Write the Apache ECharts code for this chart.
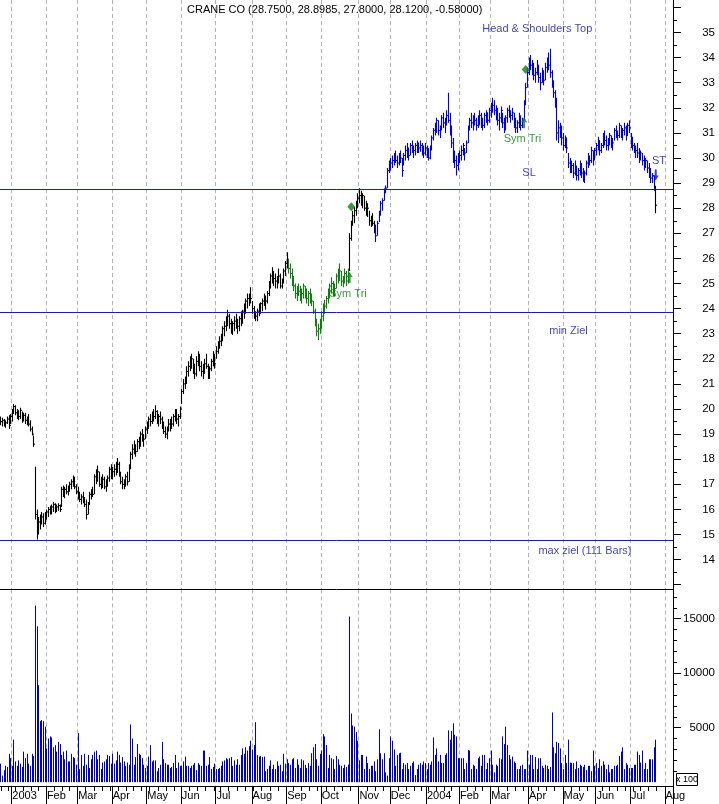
<!DOCTYPE html>
<html><head><meta charset="utf-8">
<script src="https://cdn.jsdelivr.net/npm/echarts@6/dist/echarts.min.js"></script>
<style>html,body{margin:0;padding:0;background:#fff}#c{width:719px;height:804px}</style>
</head><body><div id="c"></div>
<script>
// ---------- axis / calendar data ----------
const holidays = ['2002-12-25','2003-01-01','2003-01-20','2003-02-17','2003-04-18','2003-05-26','2003-07-04','2003-09-01','2003-11-27','2003-12-25',
  '2004-01-01','2004-01-19','2004-02-16','2004-04-09','2004-05-31','2004-06-11','2004-07-05'];
const monthLabels = ['2003','Feb','Mar','Apr','May','Jun','Jul','Aug','Sep','Oct','Nov','Dec','2004','Feb','Mar','Apr','May','Jun','Jul','Aug'];
const priceTickLabels = [14,15,16,17,18,19,20,21,22,23,24,25,26,27,28,29,30,31,32,33,34,35];
const priceTickMarks = [13,14,15,16,17,18,19,20,21,22,23,24,25,26,27,28,29,30,31,32,33,34,35,36];
const volumeTickLabels = [5000,10000,15000];
const titleText = 'CRANE CO (28.7500, 28.8985, 27.8000, 28.1200, -0.58000)';

// ---------- price bars: [high, low, close] per trading day ----------
const priceBars = [
// Dec 2002
[19.7,19.35,19.5],[19.65,19.3,19.55],[19.6,19.3,19.4],[19.55,19.25,19.45],[19.7,19.4,19.6],[19.75,19.2,19.35],[19.8,19.4,19.7],
// Jan 2003
[20.0,19.5,19.9],[20.2,19.8,20.1],[20.15,19.75,19.85],[20.0,19.6,19.9],[19.95,19.55,19.7],[20.05,19.6,19.95],[19.9,19.45,19.6],[19.85,19.5,19.75],[19.85,19.4,19.55],[19.7,19.35,19.6],[19.8,19.3,19.4],[19.55,19.1,19.2],[19.3,18.95,19.0],[18.95,18.5,18.6],[17.7,15.6,15.8],[16.0,14.8,15.2],[15.7,15.0,15.5],[15.8,15.2,15.6],[15.9,15.4,15.7],[15.85,15.3,15.45],[15.9,15.4,15.8],
// Feb
[16.0,15.6,15.9],[16.1,15.7,16.0],[16.15,15.8,15.85],[16.2,15.8,16.1],[16.3,15.9,16.2],[16.25,15.85,15.95],[16.2,15.9,16.1],[16.25,15.95,16.15],[16.2,15.9,16.0],[16.9,16.1,16.8],[16.95,16.5,16.6],[16.9,16.45,16.8],[17.0,16.6,16.7],[16.95,16.55,16.85],[17.1,16.7,17.0],[17.2,16.8,17.1],[17.35,16.9,17.2],[17.3,16.8,16.9],[17.0,16.6,16.7],
// Mar
[16.9,16.4,16.5],[16.7,16.3,16.4],[16.6,16.2,16.5],[16.7,16.25,16.3],[16.5,16.1,16.2],[16.4,15.6,15.8],[16.3,15.8,16.2],[16.7,16.2,16.6],[16.8,16.4,16.7],[16.9,16.5,16.6],[17.4,16.6,17.3],[17.6,17.0,17.2],[17.75,17.1,17.5],[17.5,16.9,17.0],[17.3,16.8,17.1],[17.4,16.85,17.2],[17.3,16.8,16.9],[17.2,16.7,17.1],[17.35,16.9,17.25],[17.7,17.1,17.6],[17.8,17.2,17.5],
// Apr
[17.7,17.2,17.5],[17.8,17.3,17.6],[17.9,17.35,17.5],[18.05,17.45,17.8],[17.9,17.3,17.4],[17.5,17.0,17.1],[17.3,16.8,17.0],[17.2,16.8,17.1],[17.4,16.9,17.3],[17.5,16.95,17.1],[17.8,17.1,17.7],[18.3,17.6,18.2],[18.6,18.0,18.4],[18.75,18.2,18.5],[18.6,18.1,18.3],[18.8,18.3,18.7],[18.9,18.4,18.6],[19.1,18.5,19.0],[19.2,18.7,18.9],[19.0,18.5,18.8],[19.3,18.8,19.2],
// May
[19.5,19.0,19.4],[19.7,19.2,19.6],[19.8,19.3,19.5],[19.9,19.4,19.8],[20.0,19.5,19.7],[20.15,19.6,19.9],[19.95,19.4,19.5],[19.8,19.3,19.7],[19.9,19.4,19.6],[19.7,19.2,19.3],[19.5,19.0,19.1],[19.3,18.85,19.0],[19.3,18.8,19.2],[19.6,19.1,19.4],[19.6,19.1,19.5],[19.7,19.2,19.4],[19.8,19.3,19.7],[20.0,19.5,19.9],[20.0,19.4,19.6],[19.8,19.3,19.7],[20.1,19.6,20.0],
// Jun
[20.8,20.2,20.7],[21.2,20.6,21.0],[21.3,20.8,21.2],[21.7,21.0,21.5],[21.9,21.3,21.7],[22.1,21.5,21.8],[22.2,21.6,22.0],[22.0,21.4,21.6],[21.8,21.2,21.4],[22.1,21.3,21.9],[22.3,21.7,22.0],[22.2,21.5,21.7],[21.9,21.3,21.5],[21.8,21.2,21.6],[22.0,21.4,21.8],[22.2,21.6,21.7],[21.8,21.2,21.3],[21.7,21.2,21.6],[22.0,21.5,21.9],[22.3,21.7,22.1],[22.2,21.6,21.8],
// Jul
[22.5,22.0,22.3],[22.7,22.2,22.6],[22.9,22.4,22.7],[23.0,22.5,22.9],[23.3,22.7,23.2],[23.5,22.9,23.3],[23.7,23.1,23.6],[23.95,23.3,23.7],[23.8,23.2,23.4],[23.6,23.0,23.2],[23.5,22.95,23.4],[23.7,23.1,23.5],[23.8,23.2,23.4],[23.6,23.0,23.3],[23.7,23.1,23.6],[23.9,23.3,23.7],[23.95,23.4,23.9],[24.2,23.6,24.0],[24.4,23.8,24.3],[24.6,24.0,24.4],[24.6,24.1,24.5],[24.85,24.2,24.4],
// Aug
[24.3,23.8,24.0],[24.1,23.6,23.8],[23.9,23.5,23.7],[24.0,23.5,23.9],[24.2,23.7,24.0],[24.25,23.8,24.2],[24.4,23.9,24.3],[24.6,24.1,24.5],[24.5,23.95,24.3],[24.7,24.2,24.6],[25.1,24.5,24.9],[25.4,24.8,25.3],[25.65,25.0,25.4],[25.5,24.9,25.2],[25.4,24.8,25.1],[25.3,24.8,25.2],[25.6,25.0,25.3],[25.4,24.8,24.9],[25.2,24.8,25.1],[25.6,25.0,25.5],[25.9,25.3,25.8],
// Sep
[26.25,25.6,25.9],[26.0,25.4,25.6],[25.8,25.2,25.4],[25.6,24.9,25.1],[25.3,24.7,24.9],[25.0,24.4,24.6],[24.9,24.3,24.8],[25.0,24.5,24.7],[24.9,24.3,24.5],[24.8,24.2,24.6],[25.0,24.4,24.9],[24.9,24.4,24.6],[24.8,24.2,24.4],[24.7,24.1,24.6],[24.8,24.2,24.5],[24.6,24.1,24.3],[24.3,23.8,23.9],[24.0,23.3,23.5],[23.6,22.9,23.1],[23.4,22.75,23.2],[23.6,23.0,23.4],
// Oct
[23.9,23.2,23.7],[24.2,23.5,24.0],[24.35,23.8,24.1],[24.5,24.0,24.4],[24.8,24.2,24.6],[25.0,24.4,24.9],[25.25,24.6,25.0],[25.1,24.5,24.7],[25.0,24.5,24.8],[25.4,24.8,25.3],[25.6,25.0,25.2],[25.8,25.1,25.5],[25.5,24.9,25.1],[25.3,24.85,25.2],[25.6,25.0,25.4],[25.5,24.9,25.1],[25.6,25.0,25.4],[27.0,25.5,26.8],[27.5,26.7,27.4],[27.9,27.3,27.7],[28.05,27.4,27.9],[28.3,27.7,28.1],[28.6,28.0,28.4],
// Nov
[28.8,28.2,28.5],[28.7,28.1,28.3],[28.6,28.0,28.5],[28.5,27.9,28.0],[28.3,27.7,27.9],[28.2,27.65,28.0],[27.9,27.3,27.5],[27.7,27.25,27.6],[27.8,27.3,27.4],[27.5,27.0,27.2],[27.35,26.65,26.9],[27.5,26.9,27.4],[27.9,27.45,27.8],[28.3,27.7,28.2],[28.4,27.9,28.3],[28.8,28.3,28.7],[28.9,28.6,28.8],[29.6,28.8,29.5],[29.9,29.4,29.7],
// Dec
[30.0,29.5,29.8],[30.1,29.6,29.9],[30.2,29.7,30.0],[30.3,29.8,29.9],[30.1,29.6,29.8],[30.2,29.7,30.1],[30.3,29.8,30.0],[30.0,29.25,29.5],[30.2,29.7,30.1],[30.5,29.9,30.3],[30.6,30.0,30.4],[30.4,29.9,30.1],[30.6,30.1,30.5],[30.7,30.2,30.4],[30.5,30.0,30.3],[30.6,30.1,30.5],[30.7,30.2,30.6],[30.6,30.2,30.4],[30.7,30.25,30.5],[30.6,30.1,30.3],[30.5,30.0,30.2],[30.6,30.1,30.4],
// Jan 2004
[30.5,30.0,30.2],[30.4,29.9,30.0],[30.5,29.95,30.4],[30.9,30.3,30.8],[31.2,30.7,31.1],[31.4,30.9,31.2],[31.6,31.0,31.5],[31.5,30.9,31.1],[31.3,30.8,31.2],[31.7,31.1,31.6],[31.8,31.2,31.4],[31.6,31.0,31.5],[31.9,31.3,31.7],[32.6,31.4,31.5],[31.8,30.9,31.1],[31.3,30.4,30.6],[30.8,29.8,30.1],[30.3,29.6,29.9],[30.1,29.3,29.7],[30.2,29.5,30.0],
// Feb
[30.3,29.8,30.1],[30.5,29.9,30.3],[30.6,30.1,30.5],[30.4,29.9,30.2],[30.7,30.2,30.6],[31.3,30.6,31.2],[31.6,31.1,31.5],[31.8,31.2,31.4],[31.7,31.1,31.6],[31.8,31.3,31.5],[31.6,31.1,31.3],[31.7,31.2,31.6],[31.9,31.3,31.7],[31.8,31.2,31.4],[31.6,31.1,31.3],[31.8,31.2,31.7],[31.9,31.4,31.8],[31.8,31.3,31.5],[32.0,31.4,31.9],
// Mar
[32.2,31.6,32.0],[32.4,31.8,32.1],[32.3,31.7,31.9],[32.1,31.5,31.7],[32.0,31.3,31.5],[31.8,31.1,31.6],[32.05,31.4,31.9],[31.8,31.2,31.4],[31.6,31.0,31.3],[31.7,31.1,31.6],[32.0,31.4,31.9],[32.1,31.6,31.8],[31.9,31.4,31.7],[32.0,31.5,31.8],[31.8,31.2,31.4],[31.6,31.0,31.2],[31.5,31.0,31.4],[31.8,31.2,31.6],[31.7,31.1,31.3],[31.6,31.2,31.5],[32.3,31.5,32.2],[33.0,32.1,32.8],[33.6,32.8,33.4],
// Apr
[34.0,33.3,33.8],[34.1,33.5,33.7],[33.9,33.3,33.5],[33.8,33.1,33.3],[33.6,33.0,33.4],[33.9,33.3,33.7],[33.7,33.0,33.2],[33.4,32.7,33.0],[33.6,33.0,33.4],[33.5,32.9,33.1],[33.8,33.1,33.6],[34.0,33.4,33.8],[34.2,33.5,33.7],[34.35,33.2,33.4],[33.5,32.8,33.0],[33.1,32.4,32.6],[32.7,32.0,32.3],[32.4,30.7,31.0],[31.5,30.6,31.2],[31.4,30.8,31.0],[31.3,30.5,30.8],
// May
[31.0,30.3,30.5],[30.9,30.4,30.8],[30.8,30.2,30.4],[30.2,29.6,29.8],[30.0,29.4,29.6],[29.9,29.4,29.7],[29.8,29.2,29.4],[29.9,29.3,29.6],[29.7,29.1,29.3],[29.6,29.1,29.5],[29.9,29.3,29.7],[29.8,29.2,29.4],[29.6,29.05,29.3],[29.5,29.0,29.4],[29.9,29.3,29.8],[30.2,29.6,30.0],[30.1,29.7,29.9],[30.45,29.8,30.3],[30.3,29.7,30.0],[30.4,29.9,30.3],
// Jun
[30.6,30.1,30.5],[30.85,30.3,30.7],[30.7,30.1,30.3],[30.6,30.2,30.5],[31.0,30.4,30.8],[31.1,30.5,30.7],[30.9,30.3,30.5],[30.8,30.3,30.7],[31.0,30.5,30.9],[30.9,30.4,30.6],[30.8,30.3,30.6],[31.2,30.7,31.1],[31.3,30.8,31.0],[31.1,30.7,30.9],[31.4,30.8,31.3],[31.3,30.8,31.0],[31.2,30.7,31.1],[31.4,30.9,31.2],[31.3,30.7,30.9],[31.4,30.9,31.3],[31.5,31.0,31.2],
// Jul
[31.0,30.4,30.6],[30.85,30.3,30.5],[30.6,30.2,30.4],[30.5,30.0,30.3],[30.6,30.0,30.2],[30.4,29.8,30.0],[30.3,29.9,30.2],[30.2,29.7,29.9],[30.1,29.5,29.7],[30.0,29.6,29.9],[29.9,29.4,29.6],[29.8,29.2,29.4],[29.6,29.0,29.2],[29.4,29.0,29.3],[29.3,28.7,28.7],[28.8985,27.8,28.12]
];

// ---------- volume (x 100) ----------
const volume = [
1700,600,1100,1500,1400,2600,2200,
1500,3900,1900,1500,2000,1700,1400,2800,2200,2600,1700,1500,2600,2400,16200,14300,8900,5600,5700,5600,5100,
3100,4000,4200,4100,3200,3400,2800,3700,3500,2500,2800,2100,2900,1900,1900,2600,2300,2200,1600,
4500,1200,2500,1500,2600,1600,2500,1300,2100,2500,2800,2900,2100,2500,1200,1800,1900,2100,2500,2400,1700,
2600,1700,2000,2800,2500,1800,2300,1900,1500,1800,1600,5300,4000,1600,2300,3500,2600,2500,2200,1600,1300,
1500,2350,3400,1900,2000,2000,1000,1300,1600,3700,2100,1750,1600,1600,1300,1400,1750,2500,1300,1800,1500,
1500,1900,2350,1500,1500,1300,1500,1600,1750,1100,1750,1600,1500,2900,2900,1500,1600,2300,1200,1400,1700,
1200,1200,1300,1500,1900,2000,2200,2100,2200,2300,1500,2000,1600,2100,1600,2500,3100,2600,3200,2900,3300,3800,
3000,3400,5500,2500,2350,2400,2300,2350,1000,1200,1500,2000,1200,1600,1200,1900,1500,1600,1000,2600,1700,
2100,1750,1600,2100,2200,1300,2100,1600,1300,2100,2000,1600,1300,1750,1500,2650,3200,3500,2100,1500,2600,
2900,4400,4200,3400,1300,2500,2200,2100,1200,2400,2100,1600,1500,1300,1600,1400,1600,15200,6300,5200,5100,4600,3800,
2000,2500,2500,1200,2350,1750,1200,1500,1500,1900,1000,2100,4850,2650,2100,2650,900,600,2200,
4200,3800,3000,1500,2500,2650,2700,1200,1750,1600,1750,1200,1500,1750,1900,650,1200,1600,1750,1600,1900,1750,
1200,1750,1600,1900,4100,2500,3100,1900,2500,1750,1750,2500,2650,4750,3900,4700,5400,4350,4200,2200,
2200,2200,2200,1200,1750,2950,2900,1200,1600,1500,1200,2200,2350,1500,2500,2500,1200,1750,2200,
2900,1600,900,1600,1500,2200,2100,4200,3500,5100,3400,2500,2100,2350,1900,1750,1200,1200,1500,1600,1200,1200,2900,
1600,2500,2500,1200,2300,1200,2200,2200,1500,1300,1600,1500,1200,1400,6400,3200,2650,3700,3600,3100,1750,
1200,2500,1750,3900,1800,1750,1750,1200,1900,1300,1600,1500,1400,1600,1100,1500,1500,1000,2900,1500,
1750,1300,2100,1500,1900,1600,1200,1600,900,1200,1200,1500,1500,1600,2400,2800,3200,1200,1750,1600,1300,
1300,1300,1600,1600,2800,2500,1800,2900,1200,1750,1200,2100,2100,2100,3200,3900
];

// ---------- horizontal levels, signals and annotations ----------
const levelValues = [28.75, 23.85, 14.76];
const signalIndex = [213, 212, 319, 318, 398];
const signalPrice = [28.06, 25.24, 33.53, 31.4, 29.32];
const signalKind  = ['diamond', 'up', 'diamond', 'up', 'down'];
const noteText  = ['Head & Shoulders Top', 'SL', 'ST', 'Sym Tri', 'Sym Tri', 'min Ziel', 'max ziel (111 Bars)'];
const noteIndex = [326, 321, 400, 317, 211, 345, 355];
const notePrice = [35.14, 29.4, 29.9, 30.76, 24.58, 23.11, 14.36];
const noteKind  = ['blue', 'blue', 'blue', 'green', 'green', 'blue', 'blue'];
const barColorBreaks = [175, 212, 228, 398];

// ---------- styles ----------
const FONT = 'Liberation Sans';
const C_BLACK = '#000000', C_GREEN = '#127a12', C_BLUE = '#0000d8', C_NAVY = '#121294', C_LEVEL = '#1c1cae';
const barPalette = [C_BLACK, C_GREEN, C_BLACK, C_BLUE, C_BLACK];
function barColor(i){ let k = 0; while (k < barColorBreaks.length && i >= barColorBreaks[k]) k++; return barPalette[k]; }

// ---------- calendar ----------
const dates = [];
for (let d = new Date(Date.UTC(2002,11,20)); d <= new Date(Date.UTC(2004,7,6)); d.setUTCDate(d.getUTCDate()+1)) {
  const w = d.getUTCDay(); if (w === 0 || w === 6) continue;
  const s = d.toISOString().slice(0,10); if (holidays.indexOf(s) >= 0) continue;
  dates.push(s);
}
const monthStart = new Set(), weekStart = new Set(), labelByDate = {};
let mCount = 0;
for (let i = 1; i < dates.length; i++) {
  const a = new Date(dates[i-1] + 'T00:00:00Z'), b = new Date(dates[i] + 'T00:00:00Z');
  if (a.getUTCMonth() !== b.getUTCMonth()) { monthStart.add(i); labelByDate[dates[i]] = monthLabels[mCount++]; }
  if (b.getUTCDay() <= a.getUTCDay()) weekStart.add(i);
}
const isMonth = (i) => monthStart.has(i);
const isWeek = (i) => weekStart.has(i);

const ohlcData = priceBars.map((b, i) => [i, b[1], b[0], b[2]]);
const volData = volume.map((v, i) => [i, v]);
const arrowPath = 'path://M3,0 L6,5 L4,5 L4,11 L2,11 L2,5 L0,5 Z';
const signalData = signalIndex.map((ix, k) => {
  const kind = signalKind[k];
  return {
    value: [ix, signalPrice[k]],
    symbol: kind === 'diamond' ? 'diamond' : arrowPath,
    symbolSize: kind === 'diamond' ? [8, 9] : [6, 11],
    symbolRotate: kind === 'down' ? 180 : 0,
    itemStyle: { color: kind === 'down' ? C_BLUE : C_GREEN }
  };
});
const noteData = noteText.map((t, k) => ({
  value: [noteIndex[k], notePrice[k]], name: t,
  label: { color: noteKind[k] === 'green' ? C_GREEN : C_NAVY }
}));

const dashed = { show: true, lineStyle: { color: '#b4b4b4', type: [4, 3], width: 1 } };
const halfTicks = priceTickMarks.map(v => v + 0.5).filter(v => v < 36.29);
const volMinor = [];
for (let v = 1000; v <= 17000; v += 1000) if (v % 5000 !== 0) volMinor.push(v);

const chart = echarts.init(document.getElementById('c'), null, { renderer: 'canvas' });
chart.setOption({
  animation: false,
  backgroundColor: '#ffffff',
  textStyle: { fontFamily: FONT },
  title: { text: titleText, left: 187, top: 4, padding: 0,
    textStyle: { fontSize: 11, fontWeight: 'normal', color: '#000', fontFamily: FONT } },
  grid: [
    { left: 0, right: 46, top: 0, height: 589.5, containLabel: false },
    { left: 0, right: 46, top: 589.5, height: 196.5, containLabel: false }
  ],
  xAxis: [
    { gridIndex: 0, type: 'category', data: dates, boundaryGap: true,
      axisLine: { show: true, onZero: false, lineStyle: { color: '#000', width: 1 } },
      axisTick: { show: false }, axisLabel: { show: false },
      splitLine: Object.assign({ interval: isMonth }, dashed) },
    { gridIndex: 1, type: 'category', data: dates, boundaryGap: true, position: 'bottom',
      axisLine: { show: true, onZero: false, lineStyle: { color: '#000', width: 1 } },
      axisTick: { show: true, interval: isWeek, length: 5, lineStyle: { color: '#000' } },
      axisLabel: { show: false },
      splitLine: Object.assign({ interval: isMonth }, dashed) },
    { gridIndex: 1, type: 'category', data: dates, boundaryGap: true, position: 'bottom',
      axisLine: { show: false, onZero: false },
      axisTick: { show: true, interval: isMonth, length: 18, lineStyle: { color: '#000' } },
      axisLabel: { show: true, interval: isMonth, align: 'left', margin: 4, fontSize: 11, color: '#000', fontFamily: FONT,
        formatter: (v) => labelByDate[v] || '' },
      splitLine: { show: false } }
  ],
  yAxis: [
    { gridIndex: 0, type: 'value', position: 'right', min: 12.81, max: 36.295, scale: true,
      axisLine: { show: true, lineStyle: { color: '#000', width: 1 } },
      axisTick: { show: true, customValues: priceTickMarks, length: 8, lineStyle: { color: '#000' } },
      axisLabel: { show: true, customValues: priceTickLabels, align: 'right', margin: 42, fontSize: 11.5, color: '#000', fontFamily: FONT,
        formatter: (v) => String(v) },
      splitLine: { show: false } },
    { gridIndex: 0, type: 'value', position: 'right', min: 12.81, max: 36.295, scale: true,
      axisLine: { show: false },
      axisTick: { show: true, customValues: halfTicks, length: 4, lineStyle: { color: '#000' } },
      axisLabel: { show: false }, splitLine: { show: false } },
    { gridIndex: 1, type: 'value', position: 'right', min: -353, max: 17681,
      axisLine: { show: true, lineStyle: { color: '#000', width: 1 } },
      axisTick: { show: true, customValues: volumeTickLabels, length: 8, lineStyle: { color: '#000' } },
      axisLabel: { show: true, customValues: volumeTickLabels, align: 'right', margin: 42, fontSize: 11.5, color: '#000', fontFamily: FONT,
        formatter: (v) => String(v) },
      splitLine: { show: false } },
    { gridIndex: 1, type: 'value', position: 'right', min: -353, max: 17681,
      axisLine: { show: false },
      axisTick: { show: true, customValues: volMinor, length: 4, lineStyle: { color: '#000' } },
      axisLabel: { show: false }, splitLine: { show: false } }
  ],
  series: [
    { name: 'price', type: 'custom', xAxisIndex: 0, yAxisIndex: 0, data: ohlcData,
      encode: { x: 0, y: [1, 2] }, silent: true, clip: true,
      renderItem: function (params, api) {
        const i = api.value(0);
        const pL = api.coord([i, api.value(1)]), pH = api.coord([i, api.value(2)]), pC = api.coord([i, api.value(3)]);
        const x = Math.floor(pL[0]) + 0.5;
        const col = barColor(i);
        return { type: 'group', children: [
          { type: 'line', shape: { x1: x, y1: pL[1], x2: x, y2: pH[1] }, style: { stroke: col, lineWidth: 1.1 } },
          { type: 'line', shape: { x1: x, y1: pC[1], x2: x + 1.5, y2: pC[1] }, style: { stroke: col, lineWidth: 1 } }
        ] };
      },
      markLine: { silent: true, symbol: 'none', animation: false,
        label: { show: false },
        lineStyle: { color: C_LEVEL, width: 1, type: 'solid' },
        data: levelValues.map(v => ({ yAxis: v, lineStyle: { color: C_LEVEL, width: 1, type: 'solid' } })) }
    },
    { name: 'signals', type: 'scatter', xAxisIndex: 0, yAxisIndex: 0, silent: true, data: signalData, z: 5 },
    { name: 'notes', type: 'scatter', xAxisIndex: 0, yAxisIndex: 0, silent: true, symbolSize: 0, z: 6,
      data: noteData,
      label: { show: true, position: 'inside', formatter: '{b}', fontSize: 11, fontFamily: FONT } },
    { name: 'volume', type: 'custom', xAxisIndex: 1, yAxisIndex: 2, data: volData,
      encode: { x: 0, y: 1 }, silent: true, clip: true,
      renderItem: function (params, api) {
        const i = api.value(0);
        const p0 = api.coord([i, 0]), p1 = api.coord([i, api.value(1)]);
        const x = Math.floor(p0[0]) + 0.5;
        return { type: 'line', shape: { x1: x, y1: p0[1], x2: x, y2: p1[1] }, style: { stroke: '#0000cc', lineWidth: 1 } };
      } }
  ],
  graphic: [
    { type: 'group', left: 676, top: 773, children: [
      { type: 'rect', shape: { x: 0, y: 0, width: 21, height: 12 }, style: { fill: '#fff', stroke: '#000', lineWidth: 1 } },
      { type: 'text', x: 10.5, y: 6.5, style: { text: 'x 100', fontSize: 9, fill: '#000', align: 'center', verticalAlign: 'middle', fontFamily: FONT } }
    ] }
  ]
});
</script>
</body></html>
